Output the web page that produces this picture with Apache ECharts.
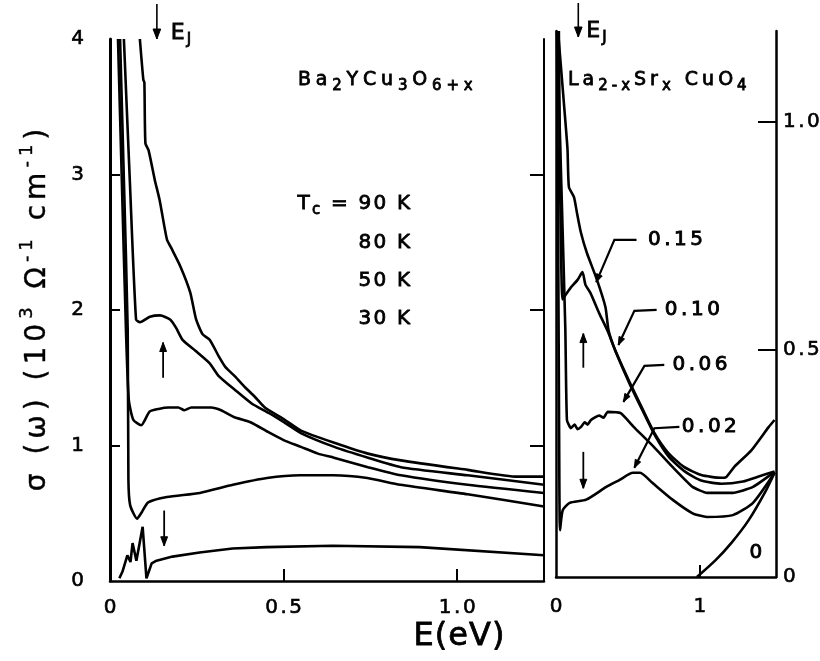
<!DOCTYPE html>
<html><head><meta charset="utf-8">
<script src="https://cdn.jsdelivr.net/npm/echarts@6/dist/echarts.min.js"></script>
<style>html,body{margin:0;padding:0;background:#fff}#c{width:820px;height:661px}</style>
</head><body><div id="c"></div>
<script>
// ---------- data (E in eV, sigma) ----------
// Left panel: Ba2YCu3O6+x, sigma in 10^3 ohm^-1 cm^-1
const ybco90K = [[0.086,4.0],[0.096,3.70],[0.099,3.68],[0.102,3.23],[0.111,3.18],[0.129,2.96],[0.143,2.81],[0.164,2.52],[0.176,2.46],[0.203,2.32],[0.231,2.13],[0.248,1.93],[0.267,1.82],[0.287,1.78],[0.315,1.65],[0.332,1.58],[0.36,1.51],[0.389,1.43],[0.417,1.36],[0.446,1.28],[0.503,1.19],[0.55,1.11],[0.646,1.02],[0.743,0.94],[0.838,0.89],[1.03,0.82],[1.174,0.77],[1.25,0.77]];
const ybco80K = [[0.040,4.0],[0.057,2.96],[0.075,1.93],[0.086,1.91],[0.115,1.95],[0.144,1.96],[0.173,1.93],[0.19,1.87],[0.209,1.78],[0.246,1.70],[0.286,1.61],[0.314,1.51],[0.36,1.41],[0.408,1.31],[0.457,1.24],[0.502,1.17],[0.551,1.09],[0.646,0.99],[0.743,0.91],[0.838,0.84],[1.03,0.78],[1.25,0.71]];
const ybco50K = [[0.023,4.0],[0.034,2.96],[0.046,1.85],[0.054,1.34],[0.067,1.19],[0.09,1.15],[0.114,1.25],[0.14,1.27],[0.169,1.28],[0.197,1.28],[0.214,1.26],[0.234,1.28],[0.291,1.28],[0.32,1.26],[0.357,1.21],[0.406,1.17],[0.455,1.10],[0.50,1.04],[0.55,0.99],[0.599,0.94],[0.645,0.91],[0.743,0.84],[0.838,0.78],[1.03,0.71],[1.25,0.65]];
const ybco30K = [[0.029,4.0],[0.040,2.96],[0.051,1.85],[0.053,0.75],[0.058,0.56],[0.078,0.46],[0.092,0.51],[0.11,0.58],[0.164,0.62],[0.259,0.65],[0.354,0.71],[0.452,0.76],[0.548,0.78],[0.643,0.78],[0.741,0.76],[0.836,0.71],[1.03,0.64],[1.25,0.55]];
const ybcoInsul = [[0.027,0.02],[0.036,0.07],[0.05,0.19],[0.059,0.14],[0.065,0.28],[0.076,0.15],[0.094,0.40],[0.105,0.02],[0.12,0.13],[0.134,0.15],[0.18,0.18],[0.258,0.21],[0.353,0.24],[0.451,0.25],[0.641,0.26],[0.892,0.25],[1.25,0.19]];
// Right panel: La2-xSrxCuO4
const lsco015 = [[0.014,1.2],[0.063,1.01],[0.08,0.94],[0.09,0.857],[0.125,0.835],[0.146,0.80],[0.174,0.756],[0.215,0.712],[0.285,0.653],[0.344,0.593],[0.365,0.543],[0.41,0.50],[0.505,0.433],[0.595,0.374],[0.685,0.316],[0.78,0.273],[0.89,0.242],[1.01,0.224],[1.15,0.218],[1.185,0.22],[1.24,0.242],[1.36,0.279],[1.48,0.33],[1.52,0.345]];
const lsco010 = [[0.02,1.2],[0.03,0.83],[0.045,0.61],[0.066,0.62],[0.10,0.635],[0.15,0.653],[0.184,0.67],[0.205,0.642],[0.24,0.624],[0.30,0.58],[0.36,0.54],[0.415,0.495],[0.51,0.426],[0.60,0.367],[0.69,0.31],[0.785,0.264],[0.90,0.231],[1.01,0.212],[1.15,0.205],[1.30,0.21],[1.42,0.222],[1.52,0.232]];
const lsco006 = [[0.007,1.2],[0.04,0.83],[0.065,0.543],[0.076,0.345],[0.104,0.327],[0.13,0.335],[0.15,0.325],[0.174,0.33],[0.2,0.34],[0.22,0.335],[0.243,0.345],[0.3,0.355],[0.33,0.35],[0.36,0.363],[0.45,0.36],[0.54,0.33],[0.68,0.286],[0.81,0.242],[0.95,0.198],[1.05,0.185],[1.23,0.185],[1.37,0.198],[1.52,0.231]];
const lsco002 = [[0.007,1.2],[0.015,0.75],[0.022,0.3],[0.028,0.103],[0.047,0.147],[0.095,0.163],[0.21,0.17],[0.35,0.198],[0.44,0.213],[0.535,0.229],[0.585,0.229],[0.67,0.207],[0.81,0.17],[0.95,0.14],[1.05,0.132],[1.23,0.136],[1.37,0.163],[1.52,0.229]];
const lsco000 = [[0.98,0],[1.11,0.037],[1.22,0.075],[1.34,0.125],[1.46,0.19],[1.52,0.229]];

// ticks / labels
const leftXLabels = [0, 0.5, 1.0];
const leftYLabels = [0, 1, 2, 3, 4];
const rightXLabels = [0, 1];
const rightYLabels = [0, 0.5, 1.0];
const tcLabels = ['90 K', '80 K', '50 K', '30 K'];
const dopingLabels = ['0.15', '0.10', '0.06', '0.02', '0'];

// annotations in data coordinates
const ejLeftE = 0.135, ejRightE = 0.155;
const leftUpArrow = [[0.153, 1.5], [0.153, 1.76]];
const leftDownArrow = [[0.156, 0.52], [0.156, 0.26]];
const rightUpArrow = [[0.19, 0.46], [0.19, 0.535]];
const rightDownArrow = [[0.19, 0.275], [0.19, 0.195]];
const leaders = [
  [[0.56,0.741],[0.406,0.741],[0.28,0.648]],
  [[0.70,0.587],[0.545,0.585],[0.434,0.51]],
  [[0.753,0.466],[0.615,0.464],[0.469,0.385]],
  [[0.858,0.33],[0.684,0.327],[0.545,0.24]]
];
const labelPos = [[0.64,0.741],[0.757,0.587],[0.81,0.466],[0.875,0.33],[1.39,0.053]];

// ---------- helpers ----------
const FONT = "'DejaVu Sans', 'Liberation Sans', sans-serif";
// rich styles; gfx=true -> for zrender graphic elements (fill/stroke), else ECharts text style
function richSet(F, S, G, LH, B, gfx) {
  const bw = B == null ? 0.6 : B;
  const base = gfx
    ? {fontFamily: FONT, fill: '#000', stroke: '#000', lineWidth: bw}
    : {fontFamily: FONT, color: '#000', textBorderColor: '#000', textBorderWidth: bw};
  const sLH = Math.round(S * 1.1);
  const mk = (o) => Object.assign({}, base, o);
  return {
    n: mk({fontSize: F, lineHeight: LH, verticalAlign: 'middle', padding: [0, G, 0, 0]}),
    ne: mk({fontSize: F, lineHeight: LH, verticalAlign: 'middle', padding: [0, 0, 0, 0]}),
    s: mk({fontSize: S, lineHeight: sLH, verticalAlign: 'bottom', padding: [0, G, 0, 0]}),
    se: mk({fontSize: S, lineHeight: sLH, verticalAlign: 'bottom', padding: [0, 0, 0, 0]}),
    p: mk({fontSize: S, lineHeight: sLH, verticalAlign: 'top', padding: [0, G, 0, 0]}),
    pe: mk({fontSize: S, lineHeight: sLH, verticalAlign: 'top', padding: [0, 0, 0, 0]})
  };
}
function rt(parts) {
  const chars = [];
  parts.forEach(([t, k]) => { for (const c of t) chars.push([c, k]); });
  return chars.map(([c, k], i) => '{' + k + (i === chars.length - 1 ? 'e' : '') + '|' + c + '}').join('');
}
const tickRich = richSet(20, 14, 2.5, 24);

function lineSeries(data, xi, yi, smooth) {
  return {type: 'line', data, xAxisIndex: xi, yAxisIndex: yi, showSymbol: false, symbol: 'none',
    smooth: smooth, clip: true, lineStyle: {color: '#000', width: 2.6}, silent: true};
}
const axisLineStyle = {color: '#000', width: 2.5};

const option = {
  animation: false,
  backgroundColor: '#fff',
  grid: [
    {left: 110, top: 39, width: 434, height: 542, outerBoundsMode: 'none'},
    {left: 556, top: 31, width: 220, height: 546, outerBoundsMode: 'none'}
  ],
  xAxis: [
    {gridIndex: 0, type: 'value', min: 0, max: 1.25,
      axisLine: {show: true, onZero: false, lineStyle: axisLineStyle},
      axisTick: {show: true, inside: true, length: 12, customValues: [0.5, 1.0], lineStyle: {color: '#000', width: 2}},
      axisLabel: {show: true, customValues: leftXLabels, margin: 15, rich: tickRich,
        formatter: v => rt([[v === 0 ? '0' : v.toFixed(1), 'n']])},
      splitLine: {show: false}},
    {gridIndex: 1, type: 'value', min: 0, max: 1.53,
      axisLine: {show: true, onZero: false, lineStyle: axisLineStyle},
      axisTick: {show: true, inside: true, length: 12, customValues: [1], lineStyle: {color: '#000', width: 2}},
      axisLabel: {show: true, customValues: rightXLabels, margin: 18, rich: tickRich,
        formatter: v => rt([[String(v), 'n']])},
      splitLine: {show: false}}
  ],
  yAxis: [
    {gridIndex: 0, type: 'value', position: 'left', min: 0, max: 4,
      axisLine: {show: true, onZero: false, lineStyle: {color: '#000', width: 3}},
      axisTick: {show: true, inside: true, length: 10, customValues: [1, 2, 3], lineStyle: {color: '#000', width: 2}},
      axisLabel: {show: true, customValues: leftYLabels, margin: 26, rich: tickRich,
        formatter: v => rt([[String(v), 'n']])},
      splitLine: {show: false},
      name: rt([['σ (ω) (10', 'n'], ['3', 'p'], [' Ω', 'n'], ['-1', 'p'], [' cm', 'n'], ['-1', 'p'], [')', 'n']]),
      nameLocation: 'middle', nameRotate: 90, nameGap: 52,
      nameTextStyle: {rich: richSet(28, 18, 5, 40, 0.4)}},
    {gridIndex: 0, type: 'value', position: 'right', min: 0, max: 4,
      axisLine: {show: true, onZero: false, lineStyle: {color: '#000', width: 2}},
      axisTick: {show: true, inside: true, length: 14, customValues: [1, 2, 3], lineStyle: {color: '#000', width: 2}},
      axisLabel: {show: false}, splitLine: {show: false}},
    {gridIndex: 1, type: 'value', position: 'right', min: 0, max: 1.2,
      axisLine: {show: true, onZero: false, lineStyle: axisLineStyle},
      axisTick: {show: true, inside: true, length: 18, customValues: [0.5, 1.0], lineStyle: {color: '#000', width: 2}},
      axisLabel: {show: true, customValues: rightYLabels, margin: 7, rich: tickRich,
        formatter: v => rt([[v === 0 ? '0' : v.toFixed(1), 'n']])},
      splitLine: {show: false}},
    {gridIndex: 1, type: 'value', position: 'left', min: 0, max: 1.2,
      axisLine: {show: true, onZero: false, lineStyle: axisLineStyle},
      axisTick: {show: false}, axisLabel: {show: false}, splitLine: {show: false}}
  ],
  series: [
    lineSeries(ybco90K, 0, 0, 0.2),
    lineSeries(ybco80K, 0, 0, 0.2),
    lineSeries(ybco50K, 0, 0, 0.2),
    lineSeries(ybco30K, 0, 0, 0.2),
    lineSeries(ybcoInsul, 0, 0, false),
    lineSeries(lsco015, 1, 2, 0.2),
    lineSeries(lsco010, 1, 2, 0.2),
    lineSeries(lsco006, 1, 2, 0.15),
    lineSeries(lsco002, 1, 2, 0.2),
    lineSeries(lsco000, 1, 2, 0.3)
  ]
};

const chart = echarts.init(document.getElementById('c'), null, {renderer: 'canvas'});
chart.setOption(option);

const L = p => chart.convertToPixel({seriesIndex: 0}, p);
const R = p => chart.convertToPixel({seriesIndex: 5}, p);
const g = [];
function seg(points, w) {
  g.push({type: 'polyline', shape: {points}, style: {stroke: '#000', lineWidth: w, fill: 'none'}, z: 100});
}
function head(tip, from, size) {
  const dx = tip[0] - from[0], dy = tip[1] - from[1], len = Math.hypot(dx, dy);
  const ux = dx / len, uy = dy / len;
  const bx = tip[0] - ux * size, by = tip[1] - uy * size, w = size * 0.38;
  g.push({type: 'polygon', shape: {points: [tip, [bx - uy * w, by + ux * w], [bx + uy * w, by - ux * w]]},
    style: {fill: '#000', stroke: '#000', lineWidth: 1}, z: 100});
}
function arrow(a, b, size, w) { seg([a, b], w); head(b, a, size); }
function txt(x, y, text, rich, align) {
  g.push({type: 'text', x, y, z: 100,
    style: {text, rich, align: align || 'left', verticalAlign: 'middle', fill: '#000', fontFamily: FONT}});
}

// E_J markers
const ejRich = richSet(22, 15, 2, 30, 0.8, true);
const ejL = L([ejLeftE, 0])[0];
arrow([ejL, 4], [ejL, 39], 10, 1.6);
txt(ejL + 14, 33, rt([['E', 'n'], ['J', 's']]), ejRich);
const ejR = R([ejRightE, 0])[0];
arrow([ejR, 3], [ejR, 37], 10, 1.6);
txt(ejR + 8, 31, rt([['E', 'n'], ['J', 's']]), ejRich);

// small arrows
arrow(L(leftUpArrow[0]), L(leftUpArrow[1]), 9, 1.8);
arrow(L(leftDownArrow[0]), L(leftDownArrow[1]), 9, 1.8);
arrow(R(rightUpArrow[0]), R(rightUpArrow[1]), 9, 1.8);
arrow(R(rightDownArrow[0]), R(rightDownArrow[1]), 9, 1.8);

// leader lines and doping labels
leaders.forEach(pts => {
  const px = pts.map(R);
  seg(px, 2.2);
  head(px[px.length - 1], px[px.length - 2], 8);
});
const labRich = richSet(20, 14, 3.5, 26, 0.9, true);
dopingLabels.forEach((t, i) => {
  const p = R(labelPos[i]);
  txt(p[0], p[1], rt([[t, 'n']]), labRich, i === 4 ? 'center' : 'left');
});

// compound names and Tc labels
const nameRich = richSet(19, 15, 4.8, 28, 0.8, true);
txt(298, 80, rt([['Ba', 'n'], ['2', 's'], ['YCu', 'n'], ['3', 's'], ['O', 'n'], ['6+x', 's']]), nameRich, 'left');
const laRich = richSet(19, 15, 4, 28, 0.8, true);
txt(568, 80, rt([['La', 'n'], ['2-x', 's'], ['Sr', 'n'], ['x', 's'], [' CuO', 'n'], ['4', 's']]), laRich, 'left');
const tcRich = richSet(20, 15, 2.2, 28, 0.8, true);
const tcY = [204, 243, 281, 319];
tcLabels.forEach((t, i) => {
  const s = i === 0 ? rt([['T', 'n'], ['c', 's'], [' = ' + t, 'n']]) : rt([[t, 'n']]);
  txt(410, tcY[i], s, tcRich, 'right');
});

// x-axis title
txt(459, 637, rt([['E(eV)', 'n']]), richSet(32, 20, 1, 40, 0.8, true), 'center');

chart.setOption({graphic: g});
</script>
</body></html>
